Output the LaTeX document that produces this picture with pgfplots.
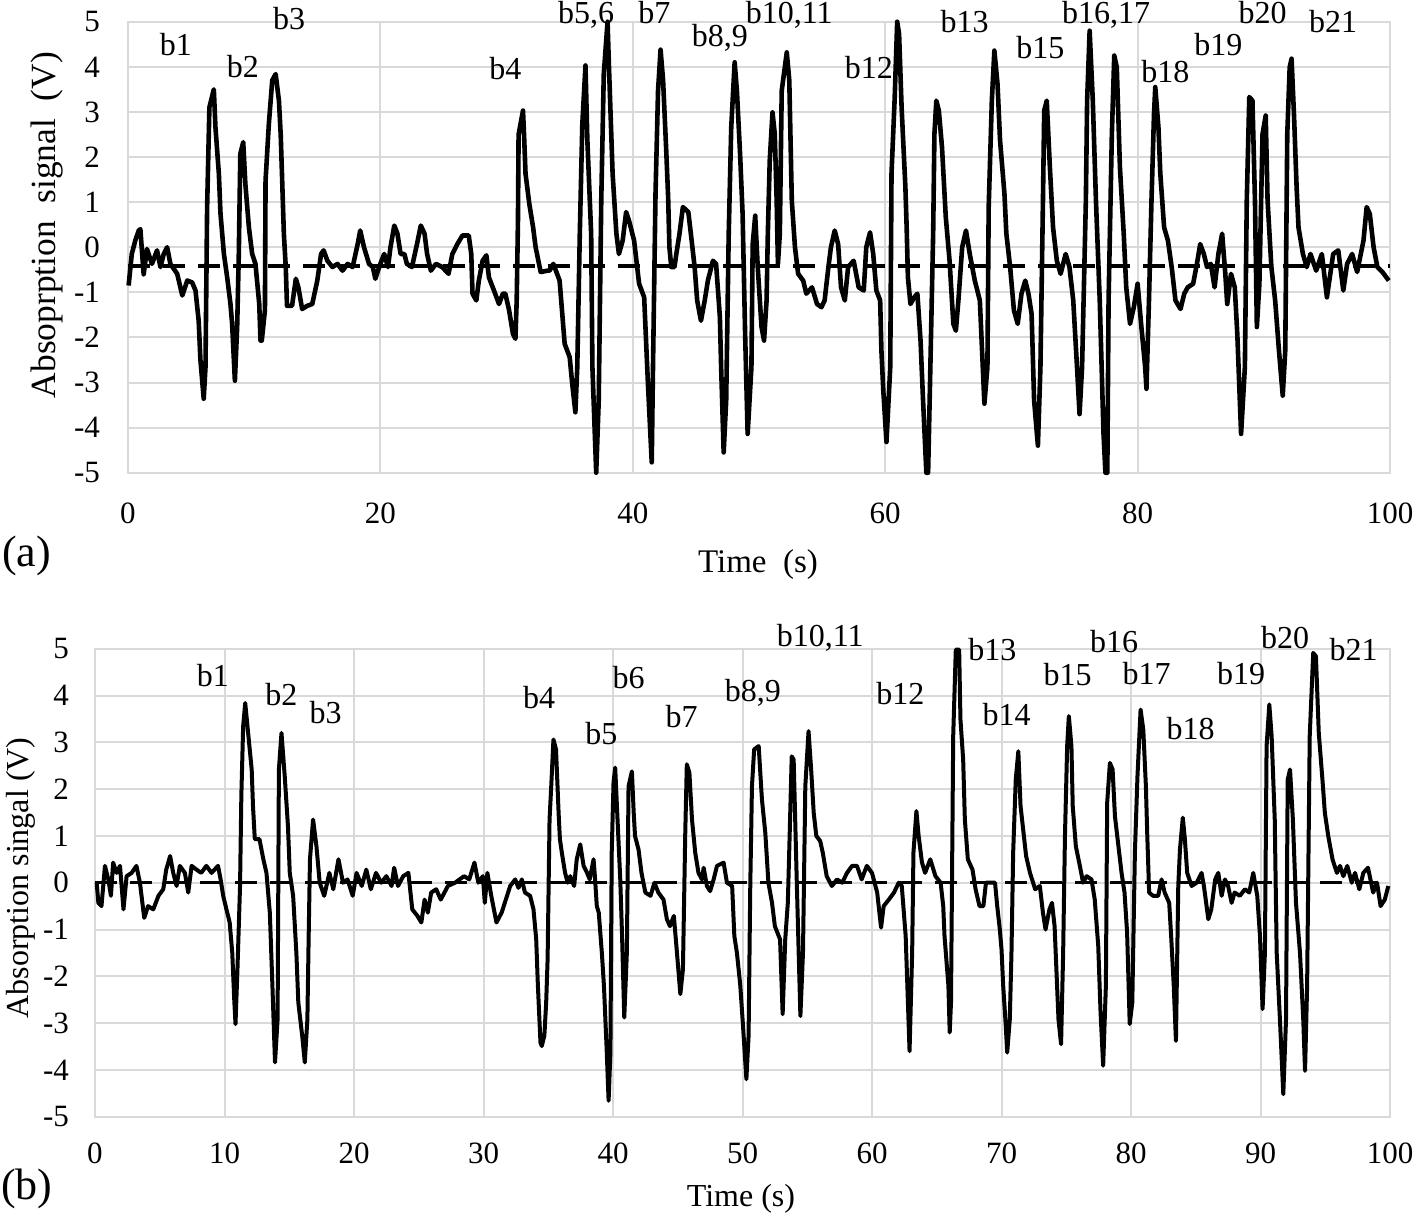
\documentclass[border=0pt]{standalone}
\usepackage{pgfplots}
\pgfplotsset{compat=1.18}
\usepackage{fontspec}
\setmainfont{Liberation Serif}
\definecolor{gridgray}{HTML}{D9D9D9}

\pgfplotstableread{
t v
0.05 -0.85
0.3 -0.15
0.58 0.15
0.85 0.37
0.98 0.4
1.24 -0.6
1.5 -0.04
1.9 -0.37
2.3 -0.07
2.57 -0.44
2.83 -0.15
3.1 0.0
3.36 -0.37
3.9 -0.59
4.3 -1.07
4.7 -0.74
5.08 -0.78
5.35 -0.96
5.6 -1.63
5.74 -2.5
6.0 -3.36
6.14 -2.66
6.27 0.89
6.45 3.1
6.8 3.5
6.93 2.66
7.2 1.63
7.33 0.74
7.6 -0.15
7.86 -0.67
8.12 -1.26
8.25 -1.7
8.47 -2.96
8.65 -1.77
8.78 -0.15
8.9 2.07
9.13 2.33
9.3 1.4
9.58 0.44
9.84 -0.15
10.1 -0.37
10.4 -1.26
10.5 -2.07
10.6 -2.07
10.85 -1.4
10.9 1.48
11.16 2.73
11.43 3.7
11.7 3.84
11.96 3.25
12.1 2.5
12.2 1.63
12.35 0.3
12.5 -0.44
12.6 -1.3
13.0 -1.3
13.3 -0.7
13.5 -0.89
13.8 -1.37
14.2 -1.3
14.6 -1.26
15.0 -0.74
15.3 -0.15
15.5 -0.07
15.8 -0.3
16.2 -0.44
16.6 -0.37
17.0 -0.52
17.4 -0.37
17.8 -0.44
18.2 0.07
18.4 0.37
18.7 0.0
19.1 -0.37
19.4 -0.44
19.6 -0.7
19.9 -0.44
20.3 -0.15
20.6 -0.44
20.8 0.0
21.1 0.48
21.35 0.3
21.6 -0.15
21.9 -0.15
22.1 -0.37
22.5 -0.44
22.9 0.07
23.2 0.48
23.5 0.3
23.7 -0.15
24.0 -0.52
24.4 -0.37
24.9 -0.44
25.4 -0.59
25.7 -0.15
26.1 0.07
26.5 0.26
27.0 0.26
27.2 -0.15
27.3 -1.03
27.6 -1.18
27.8 -0.74
28.1 -0.3
28.4 -0.18
28.6 -0.67
29.0 -0.96
29.4 -1.26
29.7 -1.03
29.9 -1.03
30.2 -1.4
30.5 -1.92
30.7 -2.03
30.8 -1.18
30.9 0.59
30.95 2.5
31.3 3.03
31.4 2.37
31.5 1.63
31.8 0.96
32.1 0.44
32.3 0
32.7 -0.55
33.25 -0.52
33.4 -0.52
33.7 -0.37
34.0 -0.59
34.2 -0.74
34.6 -2.14
35.0 -2.44
35.2 -3.03
35.45 -3.66
35.6 -2.66
35.8 0.3
36.0 2.73
36.25 4.03
36.4 2.37
36.7 0.3
36.8 -2.66
37.1 -5.0
37.3 -3.4
37.5 1.03
37.7 3.84
38.0 5.0
38.1 4.1
38.4 1.63
38.7 0.3
38.9 -0.15
39.2 0.15
39.47 0.78
39.7 0.59
40.1 0.15
40.5 -0.81
40.9 -1.11
41.2 -3.03
41.5 -4.77
41.6 -2.66
41.8 1.18
42.0 3.47
42.2 4.38
42.4 3.7
42.65 2.14
42.8 1.11
42.9 0.0
43.05 -0.44
43.3 -0.44
43.45 -0.15
43.7 0.3
43.97 0.89
44.4 0.78
44.6 0.3
44.9 -0.44
45.1 -1.18
45.4 -1.63
45.7 -1.18
45.95 -0.74
46.35 -0.3
46.6 -0.37
46.9 -1.55
47.0 -2.66
47.2 -4.55
47.4 -3.4
47.6 0.3
47.8 2.66
48.07 4.1
48.25 3.47
48.5 2.07
48.7 0.74
48.9 -1.92
49.1 -4.14
49.4 -2.66
49.5 0.07
49.7 0.7
49.9 -0.44
50.2 -1.77
50.4 -2.07
50.6 -1.18
50.7 0.3
50.85 1.92
51.07 2.99
51.25 2.51
51.4 1.03
51.5 -0.37
51.65 0.3
51.8 3.47
52.2 4.32
52.4 3.7
52.6 1.03
52.85 0.0
53.1 -0.59
53.5 -0.74
53.75 -1.03
54.2 -0.89
54.6 -1.26
54.95 -1.33
55.2 -1.18
55.5 -0.44
55.7 0.0
56.0 0.37
56.27 0.07
56.5 -0.89
56.8 -1.18
57.06 -0.44
57.5 -0.3
57.9 -0.89
58.3 -0.96
58.5 0.0
58.8 0.33
59.05 -0.15
59.3 -0.96
59.6 -1.18
59.7 -2.29
59.85 -3.18
60.1 -4.32
60.4 -2.66
60.5 1.63
60.75 3.3
60.95 5.0
61.1 4.73
61.3 3.1
61.6 1.33
61.7 0.44
61.8 -0.67
62.0 -1.26
62.3 -1.11
62.55 -1.03
62.8 -2.07
63.0 -3.4
63.26 -5.0
63.4 -5.0
63.55 -3.03
63.8 0.3
63.9 2.51
64.05 3.25
64.25 3.03
64.5 2.22
64.8 0.67
65.1 -0.3
65.4 -1.7
65.6 -1.85
65.8 -1.18
66.1 0.0
66.4 0.37
66.7 -0.15
67.1 -0.74
67.5 -1.18
67.86 -3.47
68.1 -2.66
68.2 0.89
68.45 3.25
68.65 4.36
68.9 3.62
69.1 2.37
69.45 1.18
69.6 0.3
69.9 -0.44
70.2 -1.4
70.5 -1.7
70.8 -1.03
71.1 -0.74
71.35 -1.03
71.6 -1.48
71.8 -3.4
72.1 -4.4
72.3 -2.66
72.5 1.03
72.6 3.03
72.8 3.25
73.05 1.77
73.3 0.44
73.6 -0.3
73.9 -0.59
74.3 -0.15
74.6 -0.44
74.9 -1.18
75.2 -2.66
75.4 -3.7
75.6 -2.66
75.9 1.03
76.0 3.25
76.2 4.8
76.45 3.25
76.7 1.03
77.0 -1.18
77.3 -4.14
77.45 -5.0
77.6 -5.0
77.7 -1.18
77.96 2.51
78.15 4.25
78.35 3.99
78.6 1.77
78.9 0.3
79.1 -0.89
79.4 -1.7
79.7 -1.33
80.0 -0.81
80.3 -1.77
80.6 -2.66
80.7 -3.14
80.9 -1.18
81.1 1.03
81.3 2.96
81.4 3.55
81.65 2.66
81.8 1.63
82.1 0.44
82.4 0.15
82.7 -0.44
83.0 -1.18
83.4 -1.37
83.7 -1.03
83.97 -0.89
84.4 -0.81
84.7 -0.37
84.96 0.07
85.25 -0.15
85.5 -0.44
85.8 -0.37
86.1 -0.89
86.4 -0.15
86.7 0.3
86.95 -0.59
87.1 -1.26
87.4 -0.59
87.7 -0.89
87.9 -1.92
88.2 -4.14
88.5 -2.66
88.65 1.03
88.85 3.33
89.1 3.25
89.3 1.03
89.45 -1.77
89.65 -0.81
89.9 2.51
90.15 2.92
90.3 1.03
90.6 -0.44
90.9 -1.18
91.2 -2.29
91.5 -3.29
91.7 -2.29
91.86 2.51
92.05 3.99
92.2 4.18
92.4 2.88
92.6 1.33
92.75 0.44
93.1 -0.15
93.4 -0.44
93.7 -0.15
94.15 -0.52
94.6 -0.15
95.0 -1.11
95.5 -0.15
95.9 -0.07
96.3 -0.96
96.6 -0.37
97.0 -0.15
97.4 -0.55
97.9 0.15
98.15 0.89
98.4 0.74
98.7 0.0
99.0 -0.44
99.4 -0.55
99.9 -0.74
}\topdata

\pgfplotstableread{
t v
0.13 0
0.26 -0.43
0.5 -0.5
0.77 0.36
1.03 0.07
1.23 -0.28
1.4 0.43
1.67 0.21
1.93 0.36
2.2 -0.57
2.44 0.14
2.83 0.21
3.2 0.36
3.47 0
3.8 -0.75
4.1 -0.5
4.5 -0.57
4.9 -0.28
5.27 -0.14
5.5 0.28
5.8 0.57
6.04 0.21
6.3 -0.07
6.55 0.36
6.94 0.21
7.2 -0.21
7.46 0.36
7.84 0.28
8.2 0.21
8.6 0.36
9.0 0.21
9.5 0.36
9.7 0.07
9.9 -0.28
10.15 -0.57
10.4 -0.85
10.6 -1.5
10.75 -2.49
10.85 -3.02
11.0 -1.85
11.2 -0.07
11.3 1.85
11.44 3.34
11.6 3.84
11.8 3.27
12.1 2.42
12.2 1.64
12.34 0.93
12.7 0.93
13.0 0.5
13.24 0.21
13.5 -0.64
13.7 -2.2
13.9 -3.84
14.1 -2.92
14.2 2.42
14.4 3.2
14.65 2.28
14.9 1.21
15.04 0.21
15.3 -0.28
15.55 -1.5
15.7 -2.56
16.0 -3.27
16.2 -3.84
16.4 -2.92
16.5 -1.14
16.6 0.5
16.84 1.35
17.1 0.78
17.35 0
17.7 -0.28
18.1 0.21
18.4 -0.14
18.8 0.5
19.15 0
19.5 0.07
19.9 -0.28
20.2 0.21
20.6 -0.07
20.95 0.28
21.3 -0.14
21.7 0.21
22.1 0
22.5 0.14
22.9 -0.07
23.1 0.32
23.4 -0.07
23.8 0.14
24.2 0.21
24.5 -0.57
24.9 -0.71
25.2 -0.85
25.45 -0.36
25.7 -0.64
25.96 -0.21
26.35 -0.14
26.7 -0.36
27.25 -0.07
27.8 0
28.15 0.07
28.5 0.14
28.9 0.07
29.3 0.43
29.6 0
29.95 0.14
30.1 -0.43
30.3 0.21
30.6 -0.28
31.0 -0.85
31.4 -0.64
31.9 -0.21
32.06 -0.07
32.45 0.07
32.7 -0.11
32.96 0.07
33.2 -0.21
33.6 -0.28
33.86 -0.57
34.07 -1.21
34.2 -2.2
34.4 -3.42
34.5 -3.49
34.7 -3.27
34.84 -2.56
34.95 -1.64
35.1 1.35
35.23 2.06
35.4 3.06
35.6 2.85
35.8 1.49
35.9 0.93
36.05 0.64
36.3 0.21
36.5 0
36.7 0.14
37.0 -0.07
37.2 0.5
37.47 0.82
37.73 0.36
38.0 0.21
38.2 0.07
38.5 0.5
38.6 0.14
38.75 -0.5
38.9 -0.64
39.14 -1.5
39.3 -2.2
39.5 -3.49
39.66 -4.66
39.8 -3.63
39.9 0.64
40.04 2.14
40.17 2.46
40.35 1.35
40.56 0.07
40.7 -1.14
40.87 -2.88
41.07 -1.5
41.2 2.06
41.46 2.38
41.6 1.49
41.7 1.0
41.97 0.71
42.2 0.21
42.5 -0.21
42.9 -0.28
43.2 0
43.5 -0.21
43.9 -0.36
44.16 -0.78
44.4 -0.93
44.7 -0.71
44.94 -1.5
45.2 -2.38
45.4 -1.85
45.58 1.07
45.7 2.53
45.9 2.35
46.1 1.35
46.35 0.64
46.6 0.21
46.87 0.07
47.0 0.32
47.25 -0.07
47.5 -0.18
47.77 0.07
48.03 0.36
48.54 0.43
48.8 0
49.2 -0.07
49.37 -1.14
49.57 -1.5
49.83 -2.2
50.04 -3.06
50.3 -4.2
50.47 -3.27
50.6 -0.07
50.73 2.06
50.9 2.85
51.25 2.92
51.5 1.78
51.76 1.07
52.0 0
52.28 -0.43
52.5 -0.93
52.9 -1.21
53.1 -2.81
53.3 -1.21
53.5 -0.43
53.64 1.0
53.8 2.7
53.95 2.63
54.2 -0.07
54.47 -2.85
54.67 -1.5
54.85 2.06
55.1 3.24
55.3 2.42
55.5 1.49
55.7 1.0
56.0 0.89
56.2 0.64
56.5 0.14
56.9 -0.07
57.3 0.07
57.7 0
58.07 0.21
58.46 0.36
58.84 0.36
59.2 0.07
59.6 0.36
60.0 0.21
60.4 -0.21
60.7 -0.96
60.9 -0.5
61.3 -0.36
61.7 -0.21
62.06 0
62.3 -0.07
62.6 -1.14
62.9 -3.6
63.1 -1.5
63.2 0.64
63.43 1.53
63.6 1.0
63.86 0.43
64.1 0.21
64.5 0.5
64.9 0.14
65.3 0
65.5 -0.5
65.6 -1.14
65.9 -2.2
66.0 -3.2
66.1 -2.56
66.27 3.13
66.47 4.98
66.73 4.98
66.83 3.49
67.04 2.63
67.17 1.35
67.4 0.5
67.76 0.28
68.0 -0.14
68.3 -0.5
68.6 -0.5
68.8 0
69.1 0
69.5 0
69.67 -0.5
69.87 -1.0
70.0 -1.42
70.13 -2.2
70.33 -3.06
70.44 -3.63
70.64 -2.92
70.77 -1.5
70.9 0.64
71.1 2.2
71.3 2.81
71.47 1.64
71.7 1.07
71.9 0.57
72.2 0.21
72.6 -0.14
72.96 -0.07
73.2 -0.64
73.4 -1.0
73.7 -0.57
73.9 -0.43
74.1 -0.93
74.4 -2.92
74.6 -3.45
74.76 -1.5
74.9 1.0
75.07 2.92
75.2 3.56
75.4 2.92
75.5 1.64
75.74 0.78
76.05 0.36
76.3 0
76.57 0.14
76.95 0.07
77.2 -0.36
77.47 -1.35
77.65 -2.78
77.85 -3.91
78.06 -2.2
78.16 1.71
78.37 2.56
78.58 2.42
78.76 1.42
79.0 0.85
79.27 0.21
79.5 -0.21
79.7 -1.07
79.9 -3.02
80.1 -2.56
80.3 0.64
80.5 2.28
80.74 3.7
80.95 3.27
81.15 2.06
81.25 1.07
81.4 -0.21
81.7 -0.28
82.1 -0.28
82.36 0.07
82.6 -0.21
82.95 -0.43
83.1 -1.14
83.3 -2.2
83.47 -3.38
83.65 -0.07
83.78 0.71
84.0 1.39
84.16 0.93
84.34 0.21
84.68 -0.07
85.07 0
85.45 0.21
85.63 -0.07
85.97 -0.78
86.2 -0.57
86.5 0.07
86.74 0.21
87.0 -0.28
87.25 0.07
87.5 -0.07
87.77 -0.43
88.0 -0.21
88.4 -0.28
88.8 -0.14
89.13 -0.21
89.44 0.21
89.75 -0.28
89.96 -1.14
90.16 -2.7
90.34 -1.5
90.47 2.92
90.68 3.81
90.86 3.13
91.1 1.35
91.25 -1.5
91.5 -2.92
91.76 -4.52
91.97 -2.92
92.1 2.2
92.28 2.42
92.5 1.35
92.74 -0.43
93.05 -1.5
93.3 -2.92
93.44 -4.02
93.6 -2.2
93.8 3.13
94.07 4.91
94.28 4.84
94.5 3.2
94.8 2.14
94.97 1.49
95.23 1.0
95.56 0.5
95.9 0.21
96.14 0.36
96.4 0.14
96.7 0.36
97.05 0
97.3 0.21
97.63 -0.14
97.94 0.21
98.3 0.32
98.7 -0.21
99.0 0
99.27 -0.5
99.6 -0.36
99.87 -0.07
}\bottomdata

\tikzset{
  blab/.style={font=\fontsize{16}{19}\selectfont, inner sep=0pt},
  bbase/.style={font=\fontsize{16}{19}\selectfont, inner sep=0pt, anchor=base},
}
\pgfplotsset{
  panel/.style={
    scale only axis,
    xmin=0, xmax=100, ymin=-5, ymax=5,
    axis line style={draw=gridgray, line width=1pt},
    grid=major,
    major grid style={draw=gridgray, line width=1pt},
    tick style={draw=none},
    ytick={-5,-4,-3,-2,-1,0,1,2,3,4,5},
    yticklabels={-5,-4,-3,-2,-1,0,1,2,3,4,5},
    tick label style={font=\fontsize{15.5}{18}\selectfont},
    clip=false,
  },
}

\begin{document}
\begin{tikzpicture}
\useasboundingbox (0,0) rectangle (707.5pt,-608pt);

% ---------- panel (a) ----------
\begin{axis}[panel,
  at={(64pt,-236.35pt)}, anchor=south west,
  width=631pt, height=225.5pt,
  xtick={0,20,40,60,80,100},
  xticklabels={0,20,40,60,80,100},
  xticklabel style={yshift=-11.5pt},
  yticklabel style={xshift=-10.5pt},
]
\addplot[black, line width=2pt, dash pattern=on 11pt off 6.5pt] coordinates {(0,-0.42) (100,-0.42)};
\addplot[black, line width=2.3pt, line join=round] table[x=t,y=v] {\topdata};
\node[bbase] at (axis cs:3.8,4.26) {b1};
\node[bbase] at (axis cs:9.1,3.77) {b2};
\node[bbase] at (axis cs:12.76,4.82) {b3};
\node[bbase] at (axis cs:29.9,3.71) {b4};
\node[bbase] at (axis cs:36.3,4.97) {b5,6};
\node[bbase] at (axis cs:41.7,4.96) {b7};
\node[bbase] at (axis cs:46.9,4.44) {b8,9};
\node[bbase] at (axis cs:52.4,4.96) {b10,11};
\node[bbase] at (axis cs:58.7,3.75) {b12};
\node[bbase] at (axis cs:66.3,4.75) {b13};
\node[bbase] at (axis cs:72.3,4.19) {b15};
\node[bbase] at (axis cs:77.5,4.97) {b16,17};
\node[bbase] at (axis cs:82.2,3.66) {b18};
\node[bbase] at (axis cs:86.4,4.26) {b19};
\node[bbase] at (axis cs:89.9,4.96) {b20};
\node[bbase] at (axis cs:95.5,4.75) {b21};
\end{axis}

% ---------- panel (b) ----------
\begin{axis}[panel,
  at={(47.5pt,-558.35pt)}, anchor=south west,
  width=647.5pt, height=234pt,
  xtick={0,10,20,30,40,50,60,70,80,90,100},
  xticklabels={0,10,20,30,40,50,60,70,80,90,100},
  xticklabel style={yshift=-9.5pt},
  yticklabel style={xshift=-9.5pt},
]
\addplot[black, line width=1.7pt, dash pattern=on 11pt off 6.5pt] coordinates {(0,0) (100,0)};
\addplot[black, line width=2pt, line join=round] table[x=t,y=v] {\bottomdata};
\node[blab] at (axis cs:9.1,4.43) {b1};
\node[blab] at (axis cs:14.4,4.02) {b2};
\node[blab] at (axis cs:17.8,3.64) {b3};
\node[blab] at (axis cs:34.3,3.96) {b4};
\node[blab] at (axis cs:39.1,3.19) {b5};
\node[blab] at (axis cs:41.2,4.38) {b6};
\node[blab] at (axis cs:45.3,3.55) {b7};
\node[blab] at (axis cs:50.8,4.06) {b8,9};
\node[blab] at (axis cs:56.0,5.24) {b10,11};
\node[blab] at (axis cs:62.2,4.04) {b12};
\node[blab] at (axis cs:69.3,4.98) {b13};
\node[blab] at (axis cs:70.4,3.6) {b14};
\node[blab] at (axis cs:75.1,4.45) {b15};
\node[blab] at (axis cs:78.7,5.15) {b16};
\node[blab] at (axis cs:81.2,4.47) {b17};
\node[blab] at (axis cs:84.6,3.3) {b18};
\node[blab] at (axis cs:88.5,4.47) {b19};
\node[blab] at (axis cs:91.9,5.24) {b20};
\node[blab] at (axis cs:97.2,4.98) {b21};
\end{axis}

% ---------- outer labels ----------
\node[rotate=90, font=\fontsize{17.7}{20}\selectfont, inner sep=0pt] at (23.5pt,-112.5pt) {Absoprption\ \ signal\ \ (V)};
\node[rotate=90, font=\fontsize{16}{19}\selectfont, inner sep=0pt] at (10.5pt,-439pt) {Absorption singal (V)};
\node[anchor=base, font=\fontsize{16.5}{19}\selectfont, inner sep=0pt] at (379pt,-286.3pt) {Time\ \ (s)};
\node[anchor=base, font=\fontsize{16}{19}\selectfont, inner sep=0pt] at (370.5pt,-603pt) {Time (s)};
\node[font=\fontsize{22}{26}\selectfont, inner sep=0pt] at (13.25pt,-278pt) {(a)};
\node[font=\fontsize{22}{26}\selectfont, inner sep=0pt] at (13.5pt,-594.5pt) {(b)};
\end{tikzpicture}
\end{document}
